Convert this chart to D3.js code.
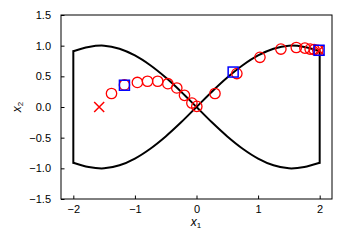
<!DOCTYPE html>
<html lang="en">
<head>
<meta charset="utf-8">
<title>figure eight boundary with trajectory</title>
<script src="https://cdn.jsdelivr.net/npm/d3@7"></script>
<style>
  body { margin: 0; background: #fff; }
  svg text { font-family: "Liberation Sans", Arial, sans-serif; }
</style>
</head>
<body>
<script>
// boundary curve, read at x steps of 0.25
var bx = [-2, -1.75, -1.5, -1.25, -1, -0.75, -0.5, -0.25, 0, 0.25, 0.5, 0.75, 1, 1.25, 1.5, 1.75, 2];
var upperY = [0.91, 0.98, 1.0, 0.95, 0.84, 0.68, 0.48, 0.25, 0, -0.25, -0.48, -0.68, -0.84, -0.95, -1.0, -0.98, -0.91];
var lowerY = [-0.91, -0.98, -1.0, -0.95, -0.84, -0.68, -0.48, -0.25, 0, 0.25, 0.48, 0.68, 0.84, 0.95, 1.0, 0.98, 0.91];

// trajectory (circles)
var trajX = [-1.38, -1.17, -0.96, -0.795, -0.63, -0.465, -0.32, -0.195, -0.075, 0.005, 0.3, 0.655, 1.03, 1.37, 1.62, 1.76, 1.845, 1.91, 1.97];
var trajY = [0.22, 0.36, 0.4, 0.42, 0.42, 0.38, 0.31, 0.19, 0.065, 0.01, 0.22, 0.545, 0.81, 0.945, 0.97, 0.96, 0.945, 0.935, 0.925];

// squares
var sqX = [-1.17, 0.595, 1.99];
var sqY = [0.355, 0.57, 0.925];

// start / end crosses
var crossX = [-1.58, 1.99];
var crossY = [0.0, 0.925];

var xTicks = [-2, -1, 0, 1, 2];
var yTicks = [-1.5, -1.0, -0.5, 0.0, 0.5, 1.0, 1.5];

var w = 342, h = 246;
var svg = d3.select("body").append("svg").attr("width", w).attr("height", h);

var x = d3.scaleLinear().domain([-2.2, 2.2]).range([61, 332]);
var y = d3.scaleLinear().domain([-1.5, 1.5]).range([199, 15]);

var g = svg.append("g");

// boundary
var line = d3.line().x(function(d) { return x(d[0]); }).y(function(d) { return y(d[1]); }).curve(d3.curveCatmullRom);
var up = bx.map(function(v, i) { return [v, upperY[i]]; });
var lo = bx.map(function(v, i) { return [v, lowerY[i]]; });
[up, lo].forEach(function(pts) {
  g.append("path").attr("d", line(pts)).attr("fill", "none").attr("stroke", "#000").attr("stroke-width", 2);
});
var first = 0, last = bx.length - 1;
[[first, first], [last, last]].forEach(function(p) {
  g.append("line")
    .attr("x1", x(bx[p[0]])).attr("x2", x(bx[p[0]]))
    .attr("y1", y(upperY[p[0]])).attr("y2", y(lowerY[p[0]]))
    .attr("stroke", "#000").attr("stroke-width", 2).attr("stroke-linecap", "square");
});

// circles
g.selectAll("circle.t").data(trajX).enter().append("circle")
  .attr("cx", function(d) { return x(d); })
  .attr("cy", function(d, i) { return y(trajY[i]); })
  .attr("r", 5.2)
  .attr("fill", "none").attr("stroke", "#ff0000").attr("stroke-width", 1.3);

// crosses
var cs = 5;
crossX.forEach(function(cx, i) {
  var px = x(cx), py = y(crossY[i]);
  g.append("path")
    .attr("d", "M" + (px - cs) + "," + (py - cs) + "L" + (px + cs) + "," + (py + cs) +
               "M" + (px - cs) + "," + (py + cs) + "L" + (px + cs) + "," + (py - cs))
    .attr("stroke", "#ff0000").attr("stroke-width", 1.5).attr("fill", "none");
});

// squares
g.selectAll("rect.s").data(sqX).enter().append("rect")
  .attr("x", function(d) { return x(d) - 5; })
  .attr("y", function(d, i) { return y(sqY[i]) - 5; })
  .attr("width", 10).attr("height", 10)
  .attr("fill", "none").attr("stroke", "#0000ff").attr("stroke-width", 1.5);

// axes
var fmtY = d3.format(".1f");
var xAxis = d3.axisBottom(x).tickValues(xTicks).tickFormat(d3.format("d"))
  .tickSizeInner(-3.5).tickSizeOuter(0).tickPadding(6);
var yAxis = d3.axisLeft(y).tickValues(yTicks).tickFormat(fmtY)
  .tickSizeInner(-3.5).tickSizeOuter(0).tickPadding(10);

var gx = svg.append("g").attr("transform", "translate(0,199)").call(xAxis);
var gy = svg.append("g").attr("transform", "translate(61,0)").call(yAxis);
[gx, gy].forEach(function(a) {
  a.select(".domain").remove();
  a.selectAll("text").attr("font-size", 11).attr("fill", "#000").attr("font-family", "Liberation Sans, Arial, sans-serif");
  a.selectAll("line").attr("stroke", "#000");
});

// frame
svg.append("rect").attr("x", 61).attr("y", 15).attr("width", 271).attr("height", 184)
  .attr("fill", "none").attr("stroke", "#000").attr("stroke-width", 1);

// axis labels
var xl = svg.append("text").attr("x", 196).attr("y", 226).attr("text-anchor", "middle").attr("font-size", 12);
xl.append("tspan").attr("font-style", "italic").text("x");
xl.append("tspan").attr("font-size", 8).attr("dy", 2).text("1");

var yl = svg.append("text").attr("transform", "translate(21,107) rotate(-90)").attr("text-anchor", "middle").attr("font-size", 12);
yl.append("tspan").attr("font-style", "italic").text("x");
yl.append("tspan").attr("font-size", 8).attr("dy", 2).text("2");
</script>
</body>
</html>
